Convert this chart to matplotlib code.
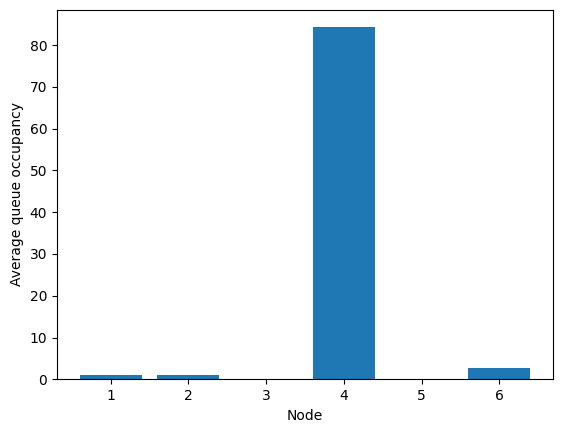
import matplotlib
matplotlib.use("Agg")
import matplotlib.pyplot as plt

nodes = [1, 2, 3, 4, 5, 6]
occupancy = [1.0, 0.95, 0.0, 84.3, 0.0, 2.6]

fig = plt.figure(figsize=(5.62, 4.32), dpi=100)
ax = fig.add_axes([0.1014, 0.122, 0.8826, 0.856])
ax.bar(nodes, occupancy, color="#1f77b4")
ax.set_xlabel("Node")
ax.set_ylabel("Average queue occupancy")
fig.savefig("out.png", dpi=100)
